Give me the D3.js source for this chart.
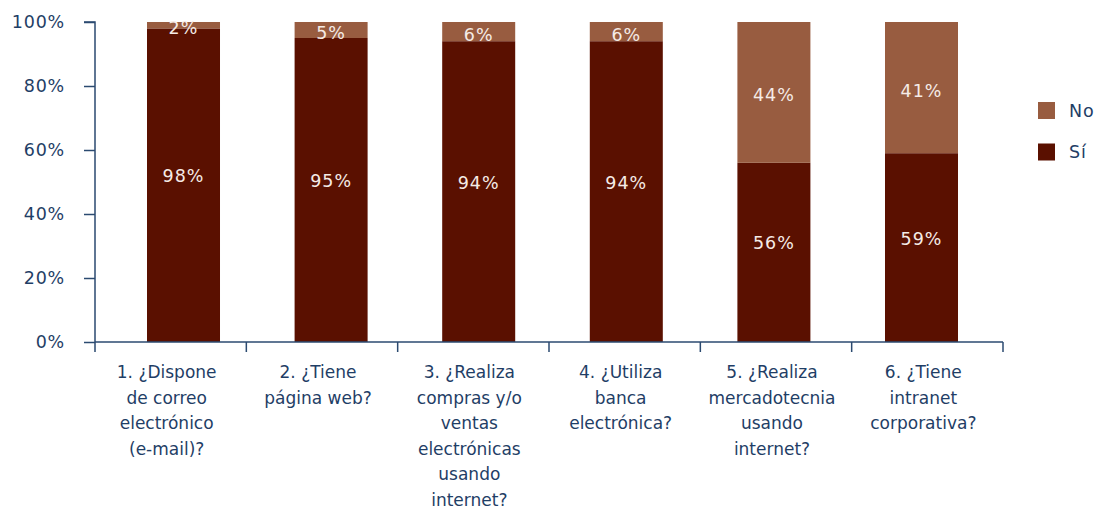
<!DOCTYPE html>
<html>
<head>
<meta charset="utf-8">
<script src="https://cdn.jsdelivr.net/npm/d3@7"></script>
<style>
  html, body { margin: 0; padding: 0; background: #ffffff; }
  svg { display: block; font-family: "DejaVu Sans", sans-serif; }
</style>
</head>
<body>
<svg id="chart" width="1097" height="508"></svg>
<script>
// Survey questions (one line of label text per entry)
const categories = [
  ["1. ¿Dispone", "de correo", "electrónico", "(e-mail)?"],
  ["2. ¿Tiene", "página web?"],
  ["3. ¿Realiza", "compras y/o", "ventas", "electrónicas", "usando", "internet?"],
  ["4. ¿Utiliza", "banca", "electrónica?"],
  ["5. ¿Realiza", "mercadotecnia", "usando", "internet?"],
  ["6. ¿Tiene", "intranet", "corporativa?"]
];
// Share of answers per question (%)
const siValues = [98, 95, 94, 94, 56, 59];
const noValues = [2, 5, 6, 6, 44, 41];
const seriesNames = ["No", "Sí"];
const yTicks = [0, 20, 40, 60, 80, 100];

const colors = { "Sí": "#5a1000", "No": "#985c40" };
const textColor = "#1f3e66";
const axisColor = "#2b4a70";

const svg = d3.select("#chart");
const keys = categories.map((c, i) => i);

const y = d3.scaleLinear().domain([0, 100]).range([342, 22]);
// Category slots along the axis
const xAxisScale = d3.scaleBand().domain(keys).range([95, 1003]).padding(0);
// Bar placement
const xBar = d3.scaleBand().domain(keys).range([147, 958]).paddingInner(0.5054).paddingOuter(0);

// Stacked data
const rows = keys.map(i => ({ i, "Sí": siValues[i], "No": noValues[i] }));
const stack = d3.stack().keys(["Sí", "No"]);
const layers = stack(rows);

// Bars
const gBars = svg.append("g");
layers.forEach(layer => {
  gBars.selectAll(null)
    .data(layer)
    .join("rect")
    .attr("x", d => xBar(d.data.i))
    .attr("width", xBar.bandwidth())
    .attr("y", d => y(d[1]))
    .attr("height", d => y(d[0]) - y(d[1]))
    .attr("fill", colors[layer.key]);
});

// Value labels
layers.forEach(layer => {
  const shift = layer.key === "Sí" ? -9 : 3;
  svg.append("g").selectAll(null)
    .data(layer)
    .join("text")
    .attr("x", d => xBar(d.data.i) + xBar.bandwidth() / 2)
    .attr("y", d => (y(d[0]) + y(d[1])) / 2 + shift)
    .attr("text-anchor", "middle")
    .attr("dominant-baseline", "central")
    .attr("font-size", 17.5)
    .attr("letter-spacing", 1)
    .attr("fill", "#f5ebe6")
    .text(d => d.data[layer.key] + "%");
});

// Y axis
const yAxis = d3.axisLeft(y)
  .tickValues(yTicks)
  .tickSize(11)
  .tickPadding(19)
  .tickFormat(d => d + "%");
const gy = svg.append("g").attr("transform", "translate(95,0)").call(yAxis);
gy.select(".domain").attr("stroke", axisColor).attr("stroke-width", 1.5)
  .attr("d", `M-11,${y(100)}H0V${y(0) + 10}`);
gy.selectAll(".tick line").attr("stroke", axisColor).attr("stroke-width", 1.5);
gy.selectAll(".tick text")
  .attr("font-size", 17.5)
  .attr("letter-spacing", 0.8)
  .attr("font-family", "DejaVu Sans, sans-serif")
  .attr("fill", textColor);

// X axis line
svg.append("line")
  .attr("x1", xAxisScale.range()[0]).attr("x2", xAxisScale.range()[1])
  .attr("y1", y(0)).attr("y2", y(0))
  .attr("stroke", axisColor).attr("stroke-width", 1.5);

// Ticks on the category boundaries
const boundaries = keys.map(i => xAxisScale(i) + xAxisScale.bandwidth());
svg.append("g").selectAll("line")
  .data(boundaries)
  .join("line")
  .attr("x1", d => d).attr("x2", d => d)
  .attr("y1", y(0)).attr("y2", y(0) + 10)
  .attr("stroke", axisColor).attr("stroke-width", 1.5);

// Category labels
const gLabels = svg.append("g");
keys.forEach(i => {
  const t = gLabels.append("text")
    .attr("text-anchor", "middle")
    .attr("font-size", 17)
    .attr("fill", textColor)
    .attr("y", y(0) + 36);
  categories[i].forEach((line, k) => {
    t.append("tspan")
      .attr("x", xAxisScale(i) + xAxisScale.bandwidth() / 2 - 4)
      .attr("dy", k === 0 ? 0 : 25.5)
      .text(line);
  });
});

// Legend
const legendY = d3.scalePoint().domain(seriesNames).range([110.5, 152]);
const gLegend = svg.append("g");
seriesNames.forEach(name => {
  gLegend.append("rect")
    .attr("x", 1038).attr("y", legendY(name) - 8.5)
    .attr("width", 17).attr("height", 17)
    .attr("fill", colors[name]);
  gLegend.append("text")
    .attr("x", 1069).attr("y", legendY(name))
    .attr("dominant-baseline", "central")
    .attr("font-size", 17.5)
    .attr("letter-spacing", 0.8)
    .attr("fill", textColor)
    .text(name);
});
</script>
</body>
</html>
